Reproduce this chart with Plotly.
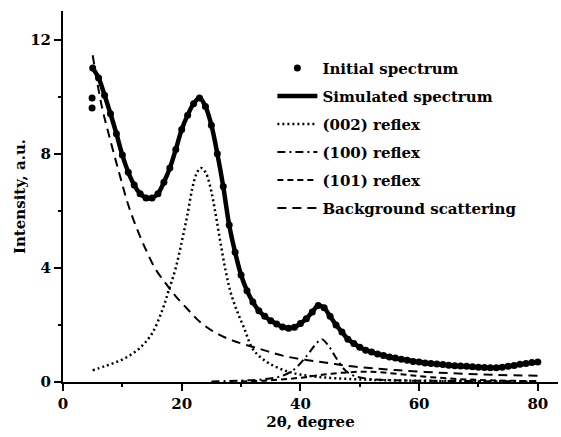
import plotly.graph_objects as go

# ---- data ----
init_x = [4.9, 4.9] + list(range(5, 81))
init_y = [9.6, 9.95,
          11.0, 10.65, 10.05, 9.4, 8.7, 7.95, 7.35, 6.9, 6.6, 6.45,
          6.45, 6.6, 7.0, 7.5, 8.15, 8.85, 9.35, 9.75, 9.95, 9.65,
          9.0, 8.0, 6.85, 5.5, 4.55, 3.75, 3.2, 2.8, 2.5, 2.3,
          2.15, 2.03, 1.93, 1.88, 1.92, 2.05, 2.22, 2.45, 2.68, 2.6,
          2.3, 2.0, 1.75, 1.5, 1.35, 1.22, 1.11, 1.05, 0.98, 0.93,
          0.88, 0.84, 0.8, 0.76, 0.72, 0.7, 0.67, 0.65, 0.63, 0.61,
          0.59, 0.57, 0.56, 0.55, 0.53, 0.52, 0.51, 0.5, 0.5, 0.52,
          0.55, 0.58, 0.62, 0.65, 0.68, 0.7]

sim_x = [5, 6, 7, 8, 9, 10, 11, 12, 13, 14, 15, 16, 17, 18, 19, 20, 21, 22, 23, 24,
         25, 26, 27, 28, 29, 30, 31, 32, 33, 34, 35, 36, 37, 38, 39, 40, 41, 42, 43,
         44, 45, 46, 47, 48, 50, 52, 55, 58, 62, 66, 70, 73, 76, 78, 80]
sim_y = [11.0, 10.65, 10.05, 9.4, 8.7, 7.95, 7.35, 6.9, 6.6, 6.45, 6.45, 6.6, 7.0,
         7.5, 8.15, 8.85, 9.35, 9.75, 9.95, 9.65, 9.0, 8.0, 6.85, 5.5, 4.55, 3.75,
         3.2, 2.8, 2.5, 2.3, 2.15, 2.03, 1.93, 1.88, 1.92, 2.05, 2.22, 2.45, 2.68,
         2.6, 2.3, 2.0, 1.75, 1.5, 1.22, 1.05, 0.88, 0.76, 0.65, 0.57, 0.52, 0.5,
         0.58, 0.65, 0.7]

r002_x = [5, 7, 9, 11, 13, 15, 16.7, 17.8, 19, 20.1, 21, 21.8, 22.5, 23.2, 24,
          24.8, 25.7, 26.6, 27.5, 28.3, 29.3, 30.5, 32, 34, 36, 38, 40, 43, 46,
          50, 55, 62, 70, 80]
r002_y = [0.41, 0.55, 0.7, 0.9, 1.2, 1.7, 2.5, 3.2, 4.0, 5.0, 5.9, 6.8, 7.3, 7.5,
          7.35, 6.85, 5.9, 4.8, 3.8, 3.1, 2.5, 1.9, 1.15, 0.75, 0.52, 0.36, 0.26,
          0.18, 0.13, 0.09, 0.06, 0.04, 0.03, 0.02]

r100_x = [25, 30, 34, 37, 39, 41, 42.5, 43.6, 44.8, 46, 47.5, 49, 52, 56, 62, 70, 80]
r100_y = [0.02, 0.05, 0.1, 0.22, 0.45, 0.9, 1.3, 1.5, 1.25, 0.85, 0.42, 0.22,
          0.1, 0.06, 0.04, 0.03, 0.02]

r101_x = [30, 35, 40, 44, 48, 51, 54, 58, 62, 67, 72, 80]
r101_y = [0.02, 0.06, 0.15, 0.26, 0.34, 0.36, 0.33, 0.25, 0.17, 0.1, 0.06, 0.03]

bg_x = [5, 6.5, 8, 9.5, 11, 12.5, 14, 15.6, 17.5, 19, 21, 23, 25.5, 28.5, 33,
        37.5, 43.5, 49, 56, 65, 73, 80]
bg_y = [11.45, 9.7, 8.45, 7.3, 6.2, 5.35, 4.62, 3.95, 3.4, 3.0, 2.55, 2.12, 1.75,
        1.46, 1.17, 0.9, 0.7, 0.54, 0.42, 0.31, 0.25, 0.22]

x_ticks = [0, 20, 40, 60, 80]
y_ticks = [0, 4, 8, 12]

FONT = "DejaVu Serif"

fig = go.Figure()
fig.add_trace(go.Scatter(x=init_x, y=init_y, mode="markers", name="Initial spectrum",
                         legendgroup="a",
                         marker=dict(color="black", size=7)))
fig.add_trace(go.Scatter(x=sim_x, y=sim_y, mode="lines", name="Simulated spectrum",
                         legendgroup="b", line_shape="spline",
                         line=dict(color="black", width=4.5)))
fig.add_trace(go.Scatter(x=r002_x, y=r002_y, mode="lines", name="(002) reflex",
                         legendgroup="c", line_shape="spline",
                         line=dict(color="black", width=2.5, dash="2px,3px")))
fig.add_trace(go.Scatter(x=r100_x, y=r100_y, mode="lines", name="(100) reflex",
                         legendgroup="d", line_shape="spline",
                         line=dict(color="black", width=2, dash="8px,4px,2px,4px")))
fig.add_trace(go.Scatter(x=r101_x, y=r101_y, mode="lines", name="(101) reflex",
                         legendgroup="e", line_shape="spline",
                         line=dict(color="black", width=2, dash="6px,4px")))
fig.add_trace(go.Scatter(x=bg_x, y=bg_y, mode="lines", name="Background scattering",
                         legendgroup="f", line_shape="spline",
                         line=dict(color="black", width=2, dash="9px,6px")))

axis_common = dict(showgrid=False, zeroline=False, showline=True, linecolor="black",
                   linewidth=2, ticks="outside", ticklen=7, tickwidth=1.5,
                   tickcolor="black", automargin=False,
                   tickfont=dict(family=FONT, size=15, color="black", weight="bold"))

fig.update_layout(
    width=561, height=437,
    margin=dict(l=63, r=3, t=11, b=55),
    paper_bgcolor="white", plot_bgcolor="white",
    font=dict(family=FONT, color="black"),
    xaxis=dict(range=[0, 83.4], tickvals=x_ticks,
               minor=dict(tickvals=[10, 30, 50, 70], ticks="outside", ticklen=3,
                          tickcolor="black", tickwidth=1.5),
               title=dict(text="2θ, degree", standoff=2,
                          font=dict(family=FONT, size=15, color="black", weight="bold")),
               **axis_common),
    yaxis=dict(range=[0, 13], tickvals=y_ticks,
               minor=dict(tickvals=[2, 6, 10], ticks="outside", ticklen=3,
                          tickcolor="black", tickwidth=1.5),
               title=dict(text="Intensity, a.u.", standoff=1,
                          font=dict(family=FONT, size=15, color="black", weight="bold")),
               **axis_common),
    legend=dict(x=0.423, y=0.89, xanchor="left", yanchor="top",
                bgcolor="rgba(0,0,0,0)", tracegroupgap=5.5, traceorder="grouped",
                font=dict(family=FONT, size=15, color="black", weight="bold"),
                itemwidth=40),
    showlegend=True,
)

fig.write_html("out.html", config={"displayModeBar": False},
               post_script="document.body.style.margin='0';document.body.style.padding='0';")
